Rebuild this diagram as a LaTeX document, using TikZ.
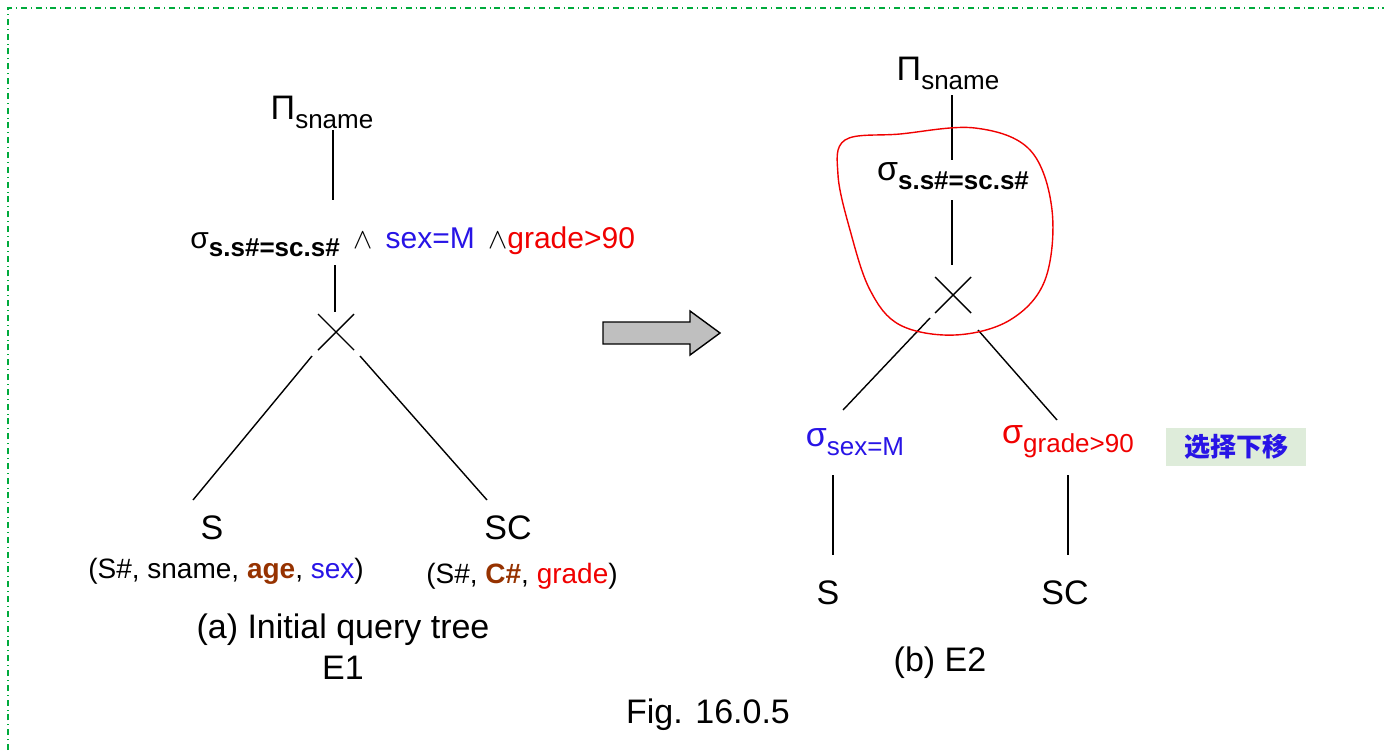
\documentclass[tikz,border=0pt]{standalone}
\usepackage{fontspec}
\setmainfont{Liberation Sans}
\newfontfamily\cjk{Noto Sans CJK SC}
\definecolor{myblue}{RGB}{40,20,230}
\definecolor{myred}{RGB}{240,0,0}
\definecolor{mybrown}{RGB}{150,50,0}
\definecolor{mygreen}{RGB}{0,170,60}
\definecolor{boxgreen}{RGB}{222,236,218}
\newcommand{\sbs}[1]{\raisebox{-0.5ex}{\fontsize{13}{15}\selectfont #1}}
\begin{document}
\begin{tikzpicture}[x=0.5pt,y=-0.5pt,
  big/.style={font=\fontsize{17}{20}\selectfont,inner sep=0pt},
  mid/.style={font=\fontsize{14}{17}\selectfont,inner sep=0pt},
  edge/.style={line width=0.7pt}]
\useasboundingbox (0,0) rectangle (1384,750);
\draw[mygreen,dash dot,line width=0.6pt] (8,750) -- (8,8) -- (1384,8);
% left tree
\node[big] (p1) at (322,112) {Π\sbs{sname}};
\node[anchor=west,inner sep=0pt,font=\fontsize{15}{18}\selectfont] (s1) at (190,242) {σ\sbs{\bfseries s.s\#=sc.s\#}\ \,$\wedge$\ \,\textcolor{myblue}{sex=M}\ \,$\wedge$\textcolor{myred}{grade>90}};
\coordinate (x1) at (336,332);
\draw[edge] (318,314) -- (354,350) (354,314) -- (318,350);
\draw[edge] (333,130) -- (333,200);
\draw[edge] (335,265) -- (335,312);
\draw[edge] (312,356) -- (193,500);
\draw[edge] (360,356) -- (487,500);
\node[big] (S1) at (212,528) {S};
\node[mid] (S1a) at (226,571) {(S\#, sname, \textcolor{mybrown}{\bfseries age}, \textcolor{myblue}{sex})};
\node[big] (SC1) at (508,528) {SC};
\node[mid] (SC1a) at (522,576) {(S\#, \textcolor{mybrown}{\bfseries C\#}, \textcolor{myred}{grade})};
\node[big] (capa) at (343,630) {(a) Initial query tree};
\node[big] (E1) at (343,668) {E1};
% arrow
\draw[fill=black!25,line width=0.7pt] (603,322) -- (690,322) -- (690,311) -- (720,333) -- (690,355) -- (690,344) -- (603,344) -- cycle;
% right tree
\node[big] (p2) at (948,73) {Π\sbs{sname}};
\node[big] (s2) at (953,176) {σ\sbs{\bfseries s.s\#=sc.s\#}};
\draw[edge] (952,95) -- (952,160);
\draw[edge] (952,200) -- (952,265);
\coordinate (x2) at (953,295);
\draw[edge] (935,277) -- (971,313) (971,277) -- (935,313);
\draw[edge] (930,318) -- (843,410);
\draw[edge] (978,330) -- (1057,420);
\node[big,myblue] (sx) at (855,442) {σ\sbs{sex=M}};
\node[big,myred] (sg) at (1068,442) {σ\sbs{grade>90}};
\node[fill=boxgreen,text=myblue,minimum width=70pt,minimum height=19pt,inner sep=0pt,font=\cjk\bfseries\fontsize{13}{15}\selectfont] (box) at (1236,447) {选择下移};
\draw[edge] (833,475) -- (833,555);
\draw[edge] (1068,475) -- (1068,555);
\node[big] (S2) at (828,593) {S};
\node[big] (SC2) at (1065,593) {SC};
\node[big] (capb) at (940,663) {(b) E2};
\node[big] (fig) at (708,715) {Fig. 16.0.5};
% red loop
\draw[myred,line width=0.7pt] plot[smooth cycle,tension=0.6] coordinates {(845,140) (900,134) (975,128) (1030,150) (1052,210) (1045,280) (1010,320) (955,335) (900,325) (870,290) (850,230) (838,175)};
\end{tikzpicture}
\end{document}
